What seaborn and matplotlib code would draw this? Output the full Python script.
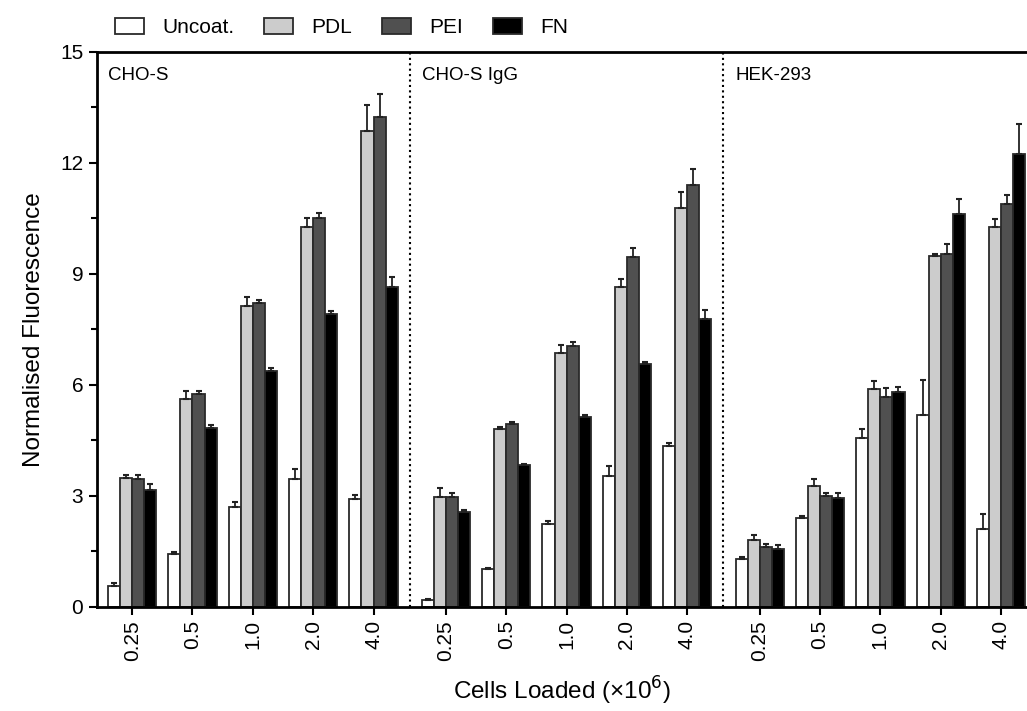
import numpy as np
import pandas as pd
import matplotlib
matplotlib.use("Agg")
import matplotlib.pyplot as plt
from matplotlib.ticker import MultipleLocator
import seaborn as sns

# ---- data -------------------------------------------------------------
cell_lines = ["CHO-S", "CHO-S IgG", "HEK-293"]
doses = ["0.25", "0.5", "1.0", "2.0", "4.0"]
coatings = ["Uncoat.", "PDL", "PEI", "FN"]

# mean normalised fluorescence, [cell line][dose] per coating
uncoat = [[0.57, 1.43, 2.70, 3.44, 2.91],
          [0.19, 1.01, 2.24, 3.52, 4.34],
          [1.29, 2.39, 4.57, 5.17, 2.09]]
pdl = [[3.49, 5.62, 8.12, 10.27, 12.86],
       [2.97, 4.79, 6.86, 8.65, 10.78],
       [1.80, 3.26, 5.88, 9.48, 10.26]]
pei = [[3.44, 5.75, 8.22, 10.50, 13.24],
       [2.97, 4.95, 7.04, 9.46, 11.40],
       [1.60, 2.99, 5.66, 9.52, 10.88]]
fn = [[3.16, 4.82, 6.37, 7.90, 8.65],
      [2.55, 3.82, 5.14, 6.55, 7.77],
      [1.56, 2.95, 5.79, 10.60, 12.24]]

# upper error (SD)
uncoat_err = [[0.07, 0.06, 0.14, 0.29, 0.10],
              [0.03, 0.03, 0.07, 0.29, 0.09],
              [0.06, 0.06, 0.23, 0.95, 0.42]]
pdl_err = [[0.07, 0.22, 0.25, 0.23, 0.69],
           [0.23, 0.08, 0.21, 0.21, 0.42],
           [0.13, 0.18, 0.21, 0.04, 0.23]]
pei_err = [[0.13, 0.08, 0.08, 0.15, 0.61],
           [0.11, 0.04, 0.11, 0.23, 0.42],
           [0.10, 0.08, 0.25, 0.27, 0.25]]
fn_err = [[0.16, 0.09, 0.08, 0.10, 0.26],
          [0.07, 0.04, 0.04, 0.07, 0.25],
          [0.10, 0.13, 0.15, 0.42, 0.81]]

means = dict(zip(coatings, [uncoat, pdl, pei, fn]))
errors = dict(zip(coatings, [uncoat_err, pdl_err, pei_err, fn_err]))

colors = ["#ffffff", "#cccccc", "#505050", "#000000"]

# ---- layout of groups on a numeric axis --------------------------------
panel_step = 5.2
rows = []
for p, line in enumerate(cell_lines):
    for i, d in enumerate(doses):
        for c in coatings:
            rows.append(dict(pos=p * panel_step + i, line=line, dose=d,
                             coating=c, value=means[c][p][i],
                             err=errors[c][p][i]))
df = pd.DataFrame(rows)
positions = sorted(df["pos"].unique())
tick_labels = [d for _ in cell_lines for d in doses]

# ---- figure -----------------------------------------------------------
sns.set_style("ticks")
plt.rcParams["font.family"] = ["Liberation Sans", "DejaVu Sans"]
plt.rcParams.update({"text.color": "black", "axes.labelcolor": "black",
                     "xtick.color": "black", "ytick.color": "black"})

fig = plt.figure(figsize=(10.27, 7.11), dpi=100)
ax = fig.add_axes([0.094, 0.1467, 0.906, 0.7806])

sns.barplot(data=df, x="pos", y="value", hue="coating", hue_order=coatings,
            palette=colors, native_scale=True, width=0.8, errorbar=None,
            edgecolor="#2a2a2a", linewidth=1.3, saturation=1, ax=ax, zorder=2)

# upper-only error bars, placed on the drawn bars
for cont, c in zip(ax.containers, coatings):
    sub = df[df["coating"] == c].sort_values("pos")
    xs = [b.get_x() + b.get_width() / 2 for b in cont]
    hs = [b.get_height() for b in cont]
    ax.errorbar(xs, hs, yerr=[np.zeros(len(hs)), sub["err"].values],
                fmt="none", ecolor="#222222", elinewidth=1.3, capsize=2,
                capthick=1.5, zorder=3)

# dotted separators between cell lines
for p in range(1, len(cell_lines)):
    ax.axvline(p * panel_step - 0.6, color="black", ls=(0, (1, 1.6)),
               lw=1.5, zorder=1)

# panel titles
for p, line in enumerate(cell_lines):
    ax.text(p * panel_step - 0.4, 14.35, line, fontsize=13.5, va="center",
            ha="left")

ax.set_xlim(-0.59, 14.83)
ax.set_ylim(0, 15)
ax.set_xticks(positions)
ax.set_xticklabels(tick_labels, rotation=90, fontsize=15)
ax.set_yticks([0, 3, 6, 9, 12, 15])
ax.yaxis.set_minor_locator(MultipleLocator(1.5))
ax.tick_params(axis="y", labelsize=15, width=1.5, length=6)
ax.tick_params(axis="y", which="minor", width=1.5, length=4)
ax.tick_params(axis="x", width=1.5, length=6)

for side in ["left", "bottom", "top"]:
    ax.spines[side].set_linewidth(2)
    ax.spines[side].set_color("black")
ax.spines["right"].set_visible(False)

ax.set_ylabel("Normalised Fluorescence", fontsize=17.5, labelpad=11)
ax.set_xlabel("Cells Loaded (\u00d710$^6$)", fontsize=17.5, labelpad=10)

handles, labels = ax.get_legend_handles_labels()
ax.legend_.remove()
fig.legend(handles, labels, loc="upper left", bbox_to_anchor=(0.112, 0.975),
           ncol=4, frameon=False, fontsize=15, handlelength=1.4,
           handleheight=0.85, handletextpad=0.85, columnspacing=1.45,
           borderaxespad=0, borderpad=0)

fig.savefig("out.png", dpi=100)
